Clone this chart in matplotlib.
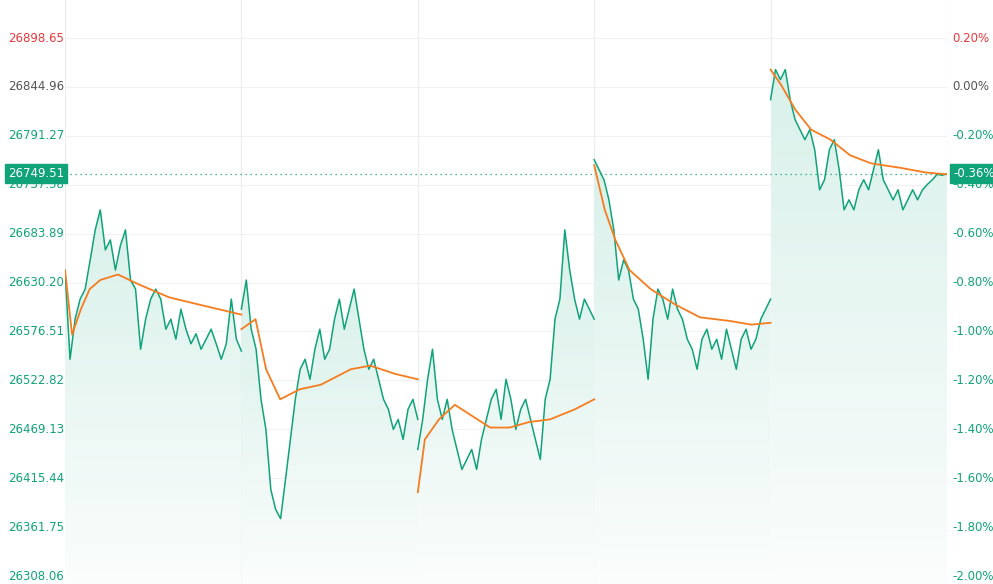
import numpy as np
import matplotlib
matplotlib.use("Agg")
import matplotlib.pyplot as plt
from matplotlib.patches import Polygon
from matplotlib.transforms import blended_transform_factory as btf

prev_close = 26844.96
last_price = 26749.51
yticks = [26898.65, 26844.96, 26791.27, 26737.58, 26683.89, 26630.20, 26576.51,
          26522.82, 26469.13, 26415.44, 26361.75, 26308.06]
pct_labels = ["0.20%", "0.00%", "-0.20%", "-0.40%", "-0.60%", "-0.80%", "-1.00%",
              "-1.20%", "-1.40%", "-1.60%", "-1.80%", "-2.00%"]

day1 = [26644,26546,26590,26612,26623,26655,26688,26710,26666,26677,26644,26671,26688,26633,26623,26557,26590,26612,26623,26612,26579,26590,26568,26601,26579,26563,26574,26557,26568,26579,26563,26546,26563,26612,26568,26555]
day2 = [26601,26633,26579,26557,26502,26469,26403,26381,26371,26414,26458,26502,26535,26546,26524,26557,26579,26546,26557,26590,26612,26579,26601,26623,26590,26557,26535,26546,26524,26502,26491,26469,26480,26458,26491,26502,26480]
day3 = [26447,26480,26524,26557,26502,26480,26502,26469,26447,26425,26436,26447,26425,26458,26480,26502,26513,26480,26524,26502,26469,26491,26502,26480,26458,26436,26502,26524,26590,26612,26688,26644,26612,26590,26612,26601,26590]
day4 = [26765,26754,26743,26721,26688,26633,26655,26644,26612,26601,26568,26524,26590,26623,26612,26590,26623,26601,26590,26568,26557,26535,26568,26579,26557,26568,26546,26579,26557,26535,26568,26579,26557,26568,26590,26601,26612]
day5 = [26831,26864,26853,26864,26831,26809,26798,26787,26798,26776,26732,26743,26776,26787,26754,26710,26721,26710,26732,26743,26732,26754,26776,26743,26732,26721,26732,26710,26721,26732,26721,26732,26738,26743,26749,26748,26749.51]
prices = [day1, day2, day3, day4, day5]

avg1 = [26644,26573,26601,26623,26633,26639,26628,26614,26606,26595]
avg2 = [26579,26590,26535,26502,26513,26518,26535,26539,26530,26524]
avg3 = [26400,26458,26480,26496,26486,26471,26471,26477,26480,26491,26502]
avg4 = [26759,26710,26677,26644,26623,26606,26592,26588,26584,26586]
avg5 = [26864,26847,26820,26798,26787,26770,26761,26756,26751,26749]
avg_pos1 = [0,0.04,0.09,0.14,0.2,0.3,0.42,0.59,0.76,1.0]
avg_pos2 = [0,0.08,0.14,0.22,0.33,0.45,0.62,0.73,0.87,1.0]
avg_pos3 = [0,0.04,0.12,0.21,0.29,0.41,0.52,0.63,0.75,0.89,1.0]
avg_pos4 = [0,0.06,0.12,0.2,0.32,0.46,0.6,0.77,0.89,1.0]
avg_pos5 = [0,0.06,0.14,0.23,0.34,0.45,0.57,0.74,0.88,1.0]
avgs = [(avg_pos1, avg1), (avg_pos2, avg2), (avg_pos3, avg3), (avg_pos4, avg4), (avg_pos5, avg5)]

W, H = 993, 584
fig = plt.figure(figsize=(W/100, H/100), dpi=100)
ax = fig.add_axes([65/W, 0, 882/W, 1])
ppx = (yticks[0]-yticks[-1])/(576-38)
ytop = yticks[0] + 38*ppx
ybot = yticks[-1] - 8*ppx
ax.set_ylim(ybot, ytop)
ax.set_xlim(0, 5)
for s in ax.spines.values():
    s.set_visible(False)
ax.set_xticks([]); ax.set_yticks([])
for t in yticks:
    ax.axhline(t, color="#f0f0f0", lw=0.8, zorder=0)
for d in range(6):
    ax.axvline(d, color="#ececec", lw=0.8, zorder=0)

green = "#10a37a"
grad = np.linspace(0.16, 0.02, 256).reshape(-1, 1)
from matplotlib.colors import LinearSegmentedColormap
cmap = LinearSegmentedColormap.from_list("g", ["#ffffff", green])
for d, p in enumerate(prices):
    x = np.linspace(d, d+1, len(p))
    ax.plot(x, p, color=green, lw=1.1, zorder=3)
    verts = [(d, ybot)] + list(zip(x, p)) + [(d+1, ybot)]
    poly = Polygon(verts, closed=True, facecolor="none", edgecolor="none")
    ax.add_patch(poly)
    im = ax.imshow(grad, cmap=cmap, vmin=0, vmax=1, aspect="auto",
                   extent=[d, d+1, ybot, max(p)], zorder=1, origin="upper")
    im.set_clip_path(poly)
    px, pv = avgs[d]
    ax.plot(np.array(px)+d, pv, color="#f57c1f", lw=1.3, zorder=4)

ax.axhline(last_price, color=green, lw=0.9, ls=(0, (1, 3)), zorder=2)

tl = btf(fig.transFigure, ax.transData)
for t, lab in zip(yticks, pct_labels):
    c = "#e8383d" if t > prev_close + 1 else ("#555555" if abs(t-prev_close) < 1 else green)
    fig.text(8/W, 0, f"{t:.2f}", color=c, fontsize=8.5, va="center", ha="left",
             transform=tl).set_y(t)
    fig.text(952/W, 0, lab, color=c, fontsize=8.5, va="center", ha="left",
             transform=tl).set_y(t)
bbox = dict(boxstyle="square,pad=0.25", fc=green, ec=green)
fig.text(8/W, 0, f"{last_price:.2f}", color="white", fontsize=8.5, va="center",
         ha="left", transform=tl, bbox=bbox).set_y(last_price)
fig.text(953/W, 0, "-0.36%", color="white", fontsize=8.5, va="center",
         ha="left", transform=tl, bbox=bbox).set_y(last_price)

fig.savefig("out.png", dpi=100)
